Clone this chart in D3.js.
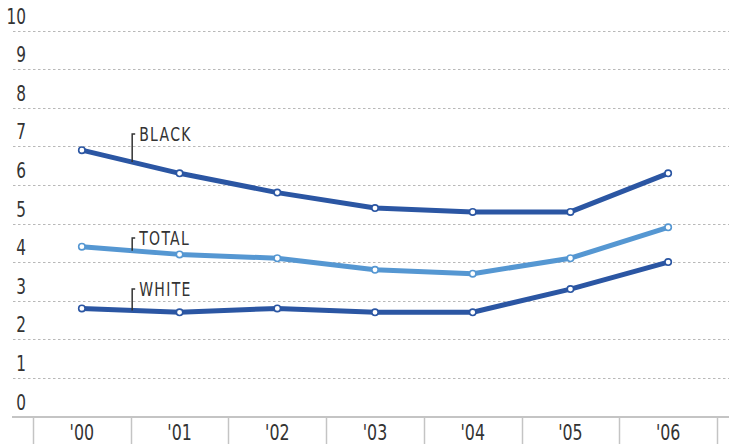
<!DOCTYPE html>
<html><head><meta charset="utf-8">
<script src="https://cdn.jsdelivr.net/npm/d3@7"></script>
<style>
html,body{margin:0;padding:0;background:#fff;}
svg{display:block;}
text{font-family:"DejaVu Sans Condensed","Liberation Sans Narrow","Roboto",sans-serif;fill:#333;}
</style></head>
<body>
<svg id="chart" width="729" height="444"></svg>
<script>
const years = ["'00","'01","'02","'03","'04","'05","'06"];
const yTicks = [0,1,2,3,4,5,6,7,8,9,10];
const seriesNames = ["BLACK","TOTAL","WHITE"];
const black = [6.9,6.3,5.8,5.4,5.3,5.3,6.3];
const total = [4.4,4.2,4.1,3.8,3.7,4.1,4.9];
const white = [2.8,2.7,2.8,2.7,2.7,3.3,4.0];
const labelValues = [7.14,4.44,3.12];

const series = [
  {name: seriesNames[0], values: black, color: "#2b56a3", label: labelValues[0]},
  {name: seriesNames[1], values: total, color: "#5597d2", label: labelValues[1]},
  {name: seriesNames[2], values: white, color: "#2b56a3", label: labelValues[2]}
];

const svg = d3.select("#chart");
const x = d3.scaleBand().domain(years).range([33, 717]);
const y = d3.scaleLinear().domain([0,10]).range([416.5, 30.5]);
const cx = d => x(d) + x.bandwidth()/2;

// grid
svg.append("g").selectAll("line").data(yTicks.filter(t=>t>0)).join("line")
  .attr("x1", 13).attr("x2", 729)
  .attr("y1", d=>Math.round(y(d))+0.5).attr("y2", d=>Math.round(y(d))+0.5)
  .attr("stroke", "#b8b8b8").attr("stroke-width", 1.2).attr("stroke-dasharray", "2.5,2.5");

// y labels
svg.append("g").selectAll("text").data(yTicks).join("text")
  .attr("text-anchor","end").attr("font-size", 20)
  .attr("transform", d=>`translate(26,${y(d)-7}) scale(0.85,1.05)`)
  .text(d=>d);

// x axis
const xAxis = d3.axisBottom(x).tickSize(0).tickPadding(0);
const gx = svg.append("g").attr("transform","translate(0,417)").call(xAxis);
gx.select(".domain").remove();
gx.selectAll("text").attr("font-size",20).attr("fill","#333")
  .attr("transform","translate(0,23) scale(0.88,1.05)").attr("dy",0)
  .style("font-family",'"DejaVu Sans Condensed","Liberation Sans Narrow",sans-serif');
svg.append("line").attr("x1",12).attr("x2",729).attr("y1",417).attr("y2",417)
  .attr("stroke","#c4c4c4").attr("stroke-width",2);
const seps = years.map(d=>x(d)).concat([x(years[years.length-1])+x.bandwidth()]);
svg.append("g").selectAll("line").data(seps).join("line")
  .attr("x1", d=>Math.round(d)+0.5).attr("x2", d=>Math.round(d)+0.5)
  .attr("y1", 417).attr("y2", 444)
  .attr("stroke","#c4c4c4").attr("stroke-width",1.5);

// lines
const line = d3.line().x((d,i)=>cx(years[i])).y(d=>y(d));
series.forEach(s=>{
  svg.append("path").datum(s.values).attr("d", line)
    .attr("fill","none").attr("stroke", s.color).attr("stroke-width", 5)
    .attr("stroke-linejoin","round");
});
series.forEach(s=>{
  svg.append("g").selectAll("circle").data(s.values).join("circle")
    .attr("cx",(d,i)=>cx(years[i])).attr("cy", d=>y(d)).attr("r", 3.2)
    .attr("fill","#fff").attr("stroke", s.color).attr("stroke-width",1.6);
});

// series labels with leaders
series.forEach(s=>{
  const t = 0.515;
  const lx = cx(years[0]) + t*(cx(years[1])-cx(years[0]));
  const ly = y(s.values[0]) + t*(y(s.values[1])-y(s.values[0]));
  const by = y(s.label);
  svg.append("path")
    .attr("d", `M${lx},${ly} V${by-7} H${lx+3}`)
    .attr("fill","none").attr("stroke","#333").attr("stroke-width",1.5);
  svg.append("text").attr("font-size", 19).attr("letter-spacing", 1.6)
    .attr("transform", `translate(${lx+7},${by}) scale(0.82,1)`)
    .text(s.name);
});
</script>
</body></html>
